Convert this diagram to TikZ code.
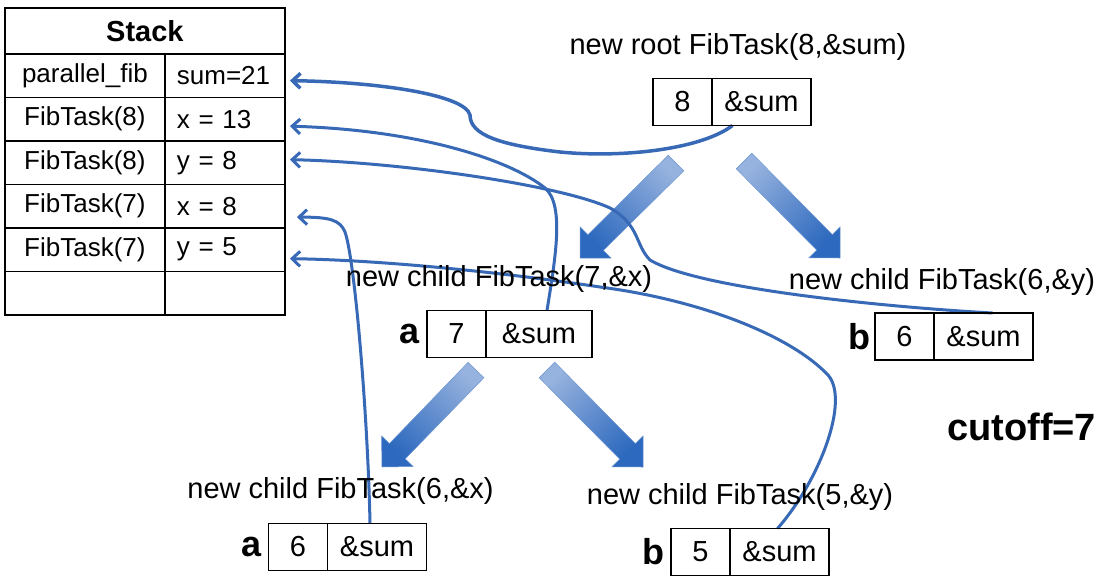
\documentclass[tikz,border=0pt]{standalone}
\usepackage{fontspec}
\setmainfont{Liberation Sans}
\usepackage{tikz}
\usetikzlibrary{matrix,positioning,calc,backgrounds,arrows.meta}

\definecolor{linkblue}{RGB}{55,105,182}
\definecolor{arrlight}{RGB}{150,178,222}
\definecolor{arrdark}{RGB}{45,105,190}

\tikzset{
  valcell/.style={draw, line width=1.4pt, outer sep=0, minimum width=59pt, minimum height=47pt, inner sep=0pt, font=\fontsize{29}{34}\selectfont},
  sumcell/.style={valcell, minimum width=99pt},
  tasklbl/.style={anchor=base, font=\fontsize{29}{34}\selectfont},
  tag/.style={inner sep=0pt, font=\fontsize{36}{40}\selectfont\bfseries},
  ptr/.style={draw=linkblue, line width=3pt, -{Straight Barb[length=8pt,width=15pt]}},
  fatarr/.style={top color=arrlight, bottom color=arrdark, draw=arrdark!70, line width=0.5pt}
}

% thick shaded arrow: tail, tip, shading angle
\newcommand\fatarrow[3]{%
  \coordinate (fb) at ($(#2)!22pt!(#1)$);
  \shade[fatarr, shading angle=#3]
    ($(#1)!11pt!90:(#2)$) -- ($(fb)!11pt!90:(#2)$) -- ($(fb)!22pt!90:(#2)$) -- (#2)
    -- ($(fb)!22pt!-90:(#2)$) -- ($(fb)!11pt!-90:(#2)$) -- ($(#1)!11pt!-90:(#2)$) -- cycle;
}

\begin{document}
\begin{tikzpicture}[x=1pt, y=-1pt]
  \useasboundingbox (0,0) rectangle (1110,576);

  % stack
  \matrix (stk) [matrix of nodes, anchor=north west, inner sep=0pt,
     nodes={draw, line width=1.4pt, outer sep=0, inner sep=2pt, minimum height=43.5pt, anchor=center, font=\fontsize{26}{30}\selectfont},
     column 1/.style={nodes={minimum width=160pt}},
     column 2/.style={nodes={text width=96pt, inner xsep=12pt, align=left}},
     row sep=-1.4pt, column sep=-1.4pt,
     nodes in empty cells] at (4,53)
  {
    parallel\_fib & sum=21 \\
    FibTask(8)    & x = 13 \\
    FibTask(8)    & y = 8  \\
    FibTask(7)    & x = 8  \\
    FibTask(7)    & y = 5  \\
                  &        \\
  };
  \node[draw, line width=1.4pt, outer sep=0, minimum width=280pt, minimum height=46pt, anchor=south west,
        font=\fontsize{29}{34}\selectfont\bfseries] (stkhd) at (stk-1-1.north west) {Stack};

  % tasks
  \node[valcell] (r8v) at (682.5,102) {8};
  \node[sumcell, right=0pt of r8v] (r8s) {\&sum};
  \node[tasklbl] (r8l) at ([shift={(26pt,24pt)}]r8s.north west) {new root FibTask(8,\&sum)};

  \node[valcell] (c7v) at (456.5,334) {7};
  \node[sumcell, minimum width=106pt, right=0pt of c7v] (c7s) {\&sum};
  \node[tag, left=7pt of c7v] (c7t) {a};
  \node[tasklbl] (c7l) at ([shift={(13pt,24pt)}]c7s.north west) {new child FibTask(7,\&x)};

  \node[valcell] (c6v) at (904.5,336.5) {6};
  \node[sumcell, right=0pt of c6v] (c6s) {\&sum};
  \node[tag, left=4pt of c6v] (c6t) {b};
  \node[tasklbl] (c6l) at ([shift={(8pt,24pt)}]c6s.north west) {new child FibTask(6,\&y)};

  \node[valcell] (g6v) at (298,547) {6};
  \node[sumcell, right=0pt of g6v] (g6s) {\&sum};
  \node[tag, left=7pt of g6v] (g6t) {a};
  \node[tasklbl] (g6l) at ([shift={(13pt,25pt)}]g6s.north west) {new child FibTask(6,\&x)};

  \node[valcell] (g5v) at (700.5,552) {5};
  \node[sumcell, right=0pt of g5v] (g5s) {\&sum};
  \node[tag, left=6pt of g5v] (g5t) {b};
  \node[tasklbl] (g5l) at ([shift={(10pt,24pt)}]g5s.north west) {new child FibTask(5,\&y)};

  \node[anchor=base west, inner sep=0pt, font=\fontsize{38}{42}\selectfont\bfseries] (cut) at (947,440) {cutoff=7};

  \begin{scope}[on background layer]
    \fill[white] (0,0) rectangle (1110,576);
    % spawn arrows
    \coordinate (r8a) at (676,163);  \coordinate (r8b) at (580,258);
    \coordinate (r8c) at (744,161);  \coordinate (r8d) at (840,258);
    \coordinate (c7a) at (476,370);  \coordinate (c7b) at (382,467);
    \coordinate (c7c) at (547,370);  \coordinate (c7d) at (643,467);
    \fatarrow{r8a}{r8b}{-45}
    \fatarrow{r8c}{r8d}{45}
    \fatarrow{c7a}{c7b}{-45}
    \fatarrow{c7c}{c7d}{45}

    % results back to the stack
    \draw[ptr, line width=3.5pt] ([xshift=-29pt]r8s.south) .. controls (700,150) and (620,158) .. (560,152)
      .. controls (500,145) and (470,135) .. (470,115) .. controls (465,95) and (380,82) .. ([shift={(5pt,-5pt)}]stk-1-2.east);
    \draw[ptr] ([xshift=8pt]c7s.north) .. controls (555,260) and (565,205) .. (545,188)
      .. controls (510,160) and (420,130) .. ([shift={(5pt,-7pt)}]stk-2-2.east);
    \draw[ptr] ([xshift=9pt]c6s.north) .. controls (900,308) and (700,290) .. (650,260)
      .. controls (635,245) and (640,225) .. (610,208) .. controls (560,185) and (400,162) .. ([shift={(5pt,3pt)}]stk-3-2.east);
    \draw[ptr] ([xshift=-7pt]g6s.north) .. controls (368,420) and (355,260) .. (345,232)
      .. controls (340,220) and (330,217) .. ([shift={(12pt,-11pt)}]stk-4-2.east);
    \draw[ptr] ([xshift=-2pt]g5s.north) .. controls (820,480) and (850,400) .. (828,375)
      .. controls (790,335) and (700,300) .. (600,287) .. controls (500,272) and (380,260) .. ([shift={(5pt,-9pt)}]stk-5-2.east);
  \end{scope}
\end{tikzpicture}
\end{document}
